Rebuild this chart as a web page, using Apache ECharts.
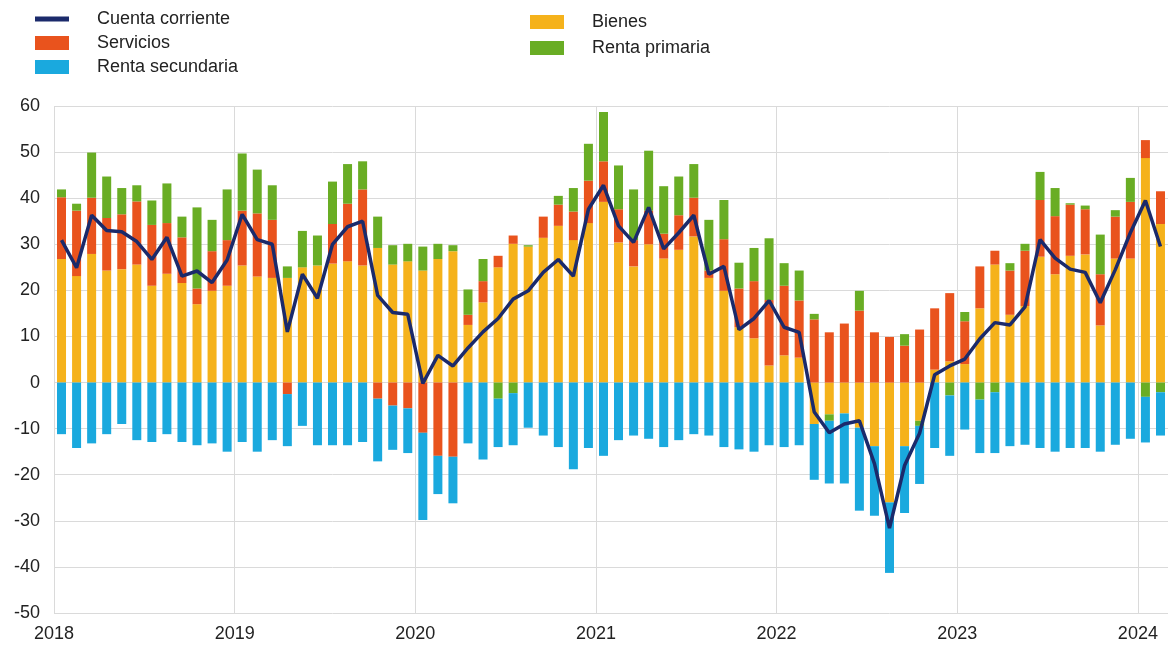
<!DOCTYPE html>
<html>
<head>
<meta charset="utf-8">
<title>Cuenta corriente</title>
<script src="https://cdn.jsdelivr.net/npm/echarts/dist/echarts.min.js"></script>
<style>
  html, body { margin: 0; padding: 0; background: #fff; }
  #chart { width: 1168px; height: 645px; }
</style>
</head>
<body>
<div id="chart"></div>
<script>
// tick labels for the year gridlines
const years = ['2018', '2019', '2020', '2021', '2022', '2023', '2024']

// monthly data, Jan 2018 .. Feb 2024 (mm EUR)
const bienes = [
  26.8, 23.1, 27.9, 24.3, 24.6, 25.6, 21.0, 23.6, 21.6, 17.0, 19.9, 21.0,
  25.4, 23.0, 22.7, 22.7, 25.0, 25.4, 25.8, 26.3, 25.4, 29.2, 25.6, 26.3,
  24.3, 26.8, 28.5, 12.5, 17.4, 25.0, 30.1, 29.5, 31.4, 34.0, 30.9, 34.6,
  39.2, 30.4, 25.2, 30.0, 26.9, 28.8, 31.7, 22.7, 19.9, 12.0, 9.6, 3.7,
  5.9, 5.4, -9.0, -6.9, -6.7, -9.8, -13.8, -26.0, -13.8, -8.3, 2.8, 4.6,
  4.0, 16.1, 25.6, 14.7, 16.6, 27.3, 23.5, 27.5, 27.8, 12.4, 26.9, 26.9,
  48.7, 34.4
]
const servicios = [
  13.4, 14.2, 12.2, 11.4, 11.9, 13.7, 13.2, 11.0, 9.9, 3.4, 8.6, 9.9,
  11.9, 13.7, 12.6, -2.5, 0, 0, 8.6, 12.5, 16.5, -3.5, -5.0, -5.6,
  -10.9, -15.9, -16.1, 2.2, 4.6, 2.5, 1.8, 0, 4.6, 4.6, 6.2, 9.2,
  8.8, 7.2, 5.7, 7.3, 5.4, 7.5, 8.4, 1.6, 11.2, 8.4, 12.4, 14.2,
  15.1, 12.4, 13.7, 10.9, 12.8, 15.6, 10.9, 9.9, 8.0, 11.5, 13.3, 14.8,
  9.3, 9.1, 3.0, 9.6, 12.0, 12.3, 12.6, 11.1, 9.8, 11.1, 9.1, 12.3,
  3.9, 7.1
]
const rentaPrimaria = [
  1.7, 1.5, 9.8, 9.0, 5.7, 3.5, 5.3, 8.6, 4.5, 17.6, 6.8, 11.0,
  12.4, 9.5, 7.5, 2.5, 7.9, 6.5, 9.2, 8.6, 6.1, 6.8, 4.2, 3.8,
  5.2, 3.3, 1.3, 5.5, 4.8, -3.5, -2.3, 0.3, 0, 1.9, 5.1, 8.0,
  10.7, 9.5, 11.0, 13.0, 10.3, 8.4, 7.3, 11.0, 8.5, 5.6, 7.2, 13.4,
  4.9, 6.5, 1.2, -1.4, 0, 4.3, 0, 0, 2.5, -1.1, 0, -2.8,
  2.0, -3.7, -2.1, 1.6, 1.5, 6.1, 6.1, 0.3, 0.8, 8.6, 1.4, 5.2,
  -3.1, -2.1
]
const rentaSecundaria = [
  -11.2, -14.2, -13.2, -11.2, -9.0, -12.5, -12.9, -11.2, -12.9, -13.6, -13.2, -15.0,
  -12.9, -15.0, -12.5, -11.3, -9.4, -13.6, -13.6, -13.6, -12.9, -13.6, -9.6, -9.7,
  -18.9, -8.3, -10.1, -13.2, -16.7, -10.5, -11.3, -9.8, -11.5, -14.0, -18.8, -14.2,
  -15.9, -12.5, -11.5, -12.2, -14.0, -12.5, -11.2, -11.5, -14.0, -14.5, -15.0, -13.6,
  -14.0, -13.6, -12.1, -13.6, -15.2, -18.0, -15.1, -15.3, -14.5, -12.6, -14.2, -13.1,
  -10.2, -11.6, -13.2, -13.8, -13.5, -14.2, -15.0, -14.2, -14.2, -15.0, -13.5, -12.2,
  -9.9, -9.4
]
const cuentaCorriente = [
  30.9, 24.9, 36.3, 33.0, 32.7, 30.6, 26.7, 31.5, 23.1, 24.2, 21.7, 26.6,
  36.5, 31.0, 30.0, 11.0, 23.5, 18.3, 30.0, 33.8, 35.0, 18.9, 15.2, 14.8,
  -0.2, 5.9, 3.6, 7.5, 11.0, 13.9, 18.1, 19.9, 23.9, 26.7, 23.1, 37.6,
  42.8, 34.0, 30.4, 38.0, 29.0, 32.5, 36.3, 23.5, 25.2, 11.5, 13.9, 17.8,
  12.0, 10.9, -6.4, -10.9, -9.0, -8.3, -17.6, -31.6, -18.0, -11.0, 1.7, 3.6,
  5.1, 9.5, 13.0, 12.5, 16.4, 31.0, 27.0, 24.6, 23.9, 17.3, 24.5, 32.5,
  39.5, 29.5
]

// month categories built from the years
const months = []
years.forEach(y => {
  for (let m = 1; m <= 12; m++) {
    if (months.length < bienes.length) months.push(y + '-' + (m < 10 ? '0' + m : m))
  }
})

const colors = {
  cuenta: '#1b2a6b',
  servicios: '#e9531d',
  secundaria: '#1aa9de',
  bienes: '#f5b21b',
  primaria: '#69ad24'
}
const font = '"Liberation Sans", Arial, sans-serif'
const gridColor = '#dadada'

const legendText = {
  fontFamily: font,
  fontSize: 18,
  color: '#222',
  lineHeight: 18,
  padding: [0, 0, 0, 23]
}

function barSeries(name, data, color) {
  return {
    name: name,
    type: 'bar',
    stack: 'total',
    data: data,
    barWidth: 9,
    itemStyle: { color: color },
    emphasis: { disabled: true }
  }
}

const chart = echarts.init(document.getElementById('chart'), null, { renderer: 'canvas' })

chart.setOption({
  animation: false,
  backgroundColor: '#fff',
  textStyle: { fontFamily: font },
  legend: [
    {
      orient: 'vertical',
      left: 35,
      top: 10,
      padding: 0,
      itemWidth: 34,
      itemHeight: 14,
      itemGap: 6,
      textStyle: legendText,
      data: [
        // thick bar for the line series, no marker
        { name: 'Cuenta corriente', icon: 'path://M0,0H34V5H0Z' },
        { name: 'Servicios', icon: 'rect' },
        { name: 'Renta secundaria', icon: 'rect' }
      ]
    },
    {
      orient: 'vertical',
      left: 530,
      top: 13,
      padding: 0,
      itemWidth: 34,
      itemHeight: 14,
      itemGap: 8,
      textStyle: legendText,
      data: [
        { name: 'Bienes', icon: 'rect' },
        { name: 'Renta primaria', icon: 'rect' }
      ]
    }
  ],
  grid: {
    left: 54,
    right: 0,
    top: 106,
    bottom: 32
  },
  xAxis: [
    {
      type: 'category',
      data: months,
      show: false,
      boundaryGap: true
    },
    {
      // value axis only carries the year gridlines and labels
      type: 'value',
      position: 'bottom',
      min: 0,
      max: bienes.length,
      interval: 12,
      axisLine: { show: false },
      axisTick: { show: false },
      splitLine: {
        show: true,
        showMaxLine: false,
        lineStyle: { color: gridColor, width: 1 }
      },
      axisLabel: {
        margin: 12,
        fontSize: 18,
        fontFamily: font,
        color: '#222',
        showMaxLabel: false,
        formatter: function(v) {
          return v % 12 === 0 ? years[v / 12] : ''
        }
      }
    }
  ],
  yAxis: {
    type: 'value',
    min: -50,
    max: 60,
    interval: 10,
    axisLine: { show: false },
    axisTick: { show: false },
    splitLine: { lineStyle: { color: gridColor, width: 1 } },
    axisLabel: {
      margin: 14,
      fontSize: 18,
      fontFamily: font,
      color: '#222'
    }
  },
  series: [
    barSeries('Bienes', bienes, colors.bienes),
    barSeries('Servicios', servicios, colors.servicios),
    barSeries('Renta primaria', rentaPrimaria, colors.primaria),
    barSeries('Renta secundaria', rentaSecundaria, colors.secundaria),
    {
      name: 'Cuenta corriente',
      type: 'line',
      data: cuentaCorriente,
      symbol: 'none',
      z: 5,
      lineStyle: { color: colors.cuenta, width: 3.5 },
      itemStyle: { color: colors.cuenta },
      emphasis: { disabled: true }
    }
  ]
})
</script>
</body>
</html>
